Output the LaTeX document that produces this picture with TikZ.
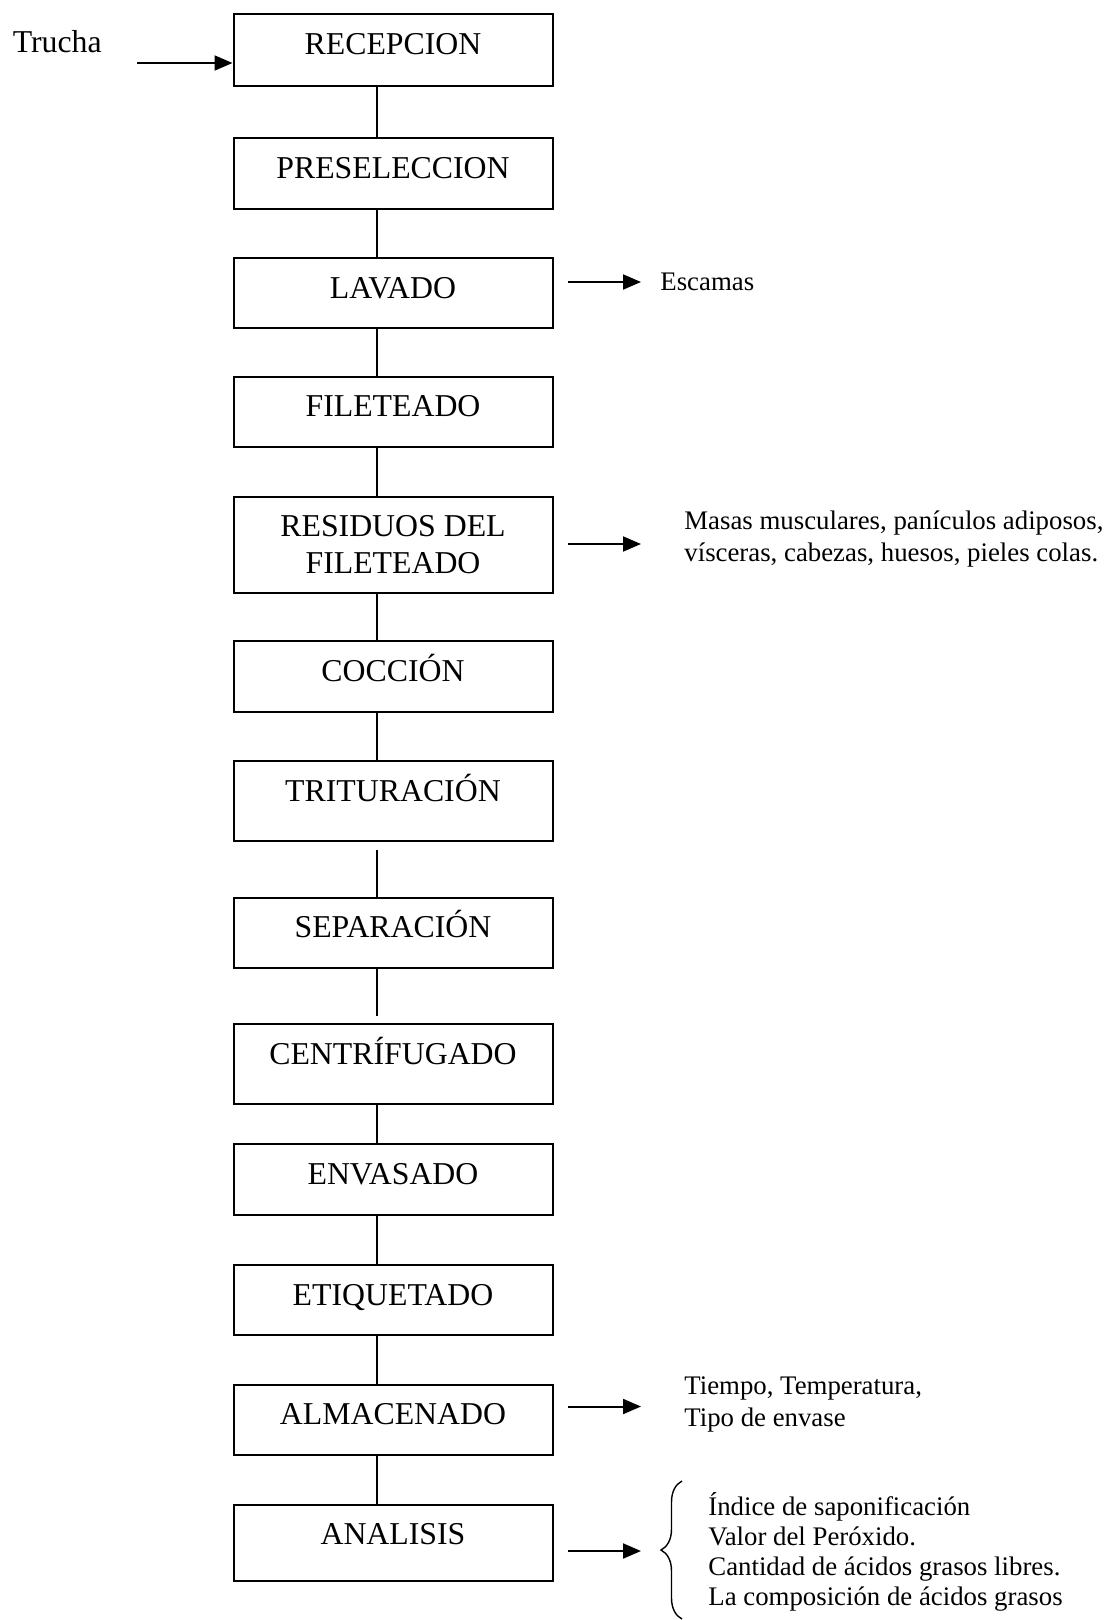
\documentclass[tikz,border=0pt]{standalone}
\usepackage{fontspec}
\setmainfont{Liberation Serif}
\usetikzlibrary{arrows.meta,decorations.pathreplacing}
\begin{document}
\begin{tikzpicture}[x=0.5pt,y=-0.5pt,
  stepbox/.style={draw,line width=1pt,minimum width=159.5pt,inner xsep=0pt,inner ysep=0pt,
    anchor=north,font=\fontsize{15.9}{18.5}\selectfont,text height=20pt},
  link/.style={line width=0.8pt},
  arr/.style={line width=1pt,-{Triangle[length=9pt,width=7.5pt]}},
  side/.style={anchor=base west,inner sep=0pt},
  sidefont/.style={font=\fontsize{13.4}{16}\selectfont}]
\useasboundingbox (0,0) rectangle (1104,1620);

% process boxes
\node[stepbox,text depth=15.65pt] (rec) at (393,13.4) {RECEPCION};
\node[stepbox,text depth=15.1pt] (pre) at (393,137.4) {PRESELECCION};
\node[stepbox,text depth=15.15pt] (lav) at (393,257.1) {LAVADO};
\node[stepbox,text depth=15.1pt] (fil) at (393,375.9) {FILETEADO};
\node[stepbox,text depth=28pt] (res) at (393,495.7)
  {\begin{tabular}[t]{@{}c@{}}RESIDUOS DEL\\FILETEADO\end{tabular}};
\node[stepbox,text depth=15.1pt] (coc) at (393,640.3) {COCCIÓN};
\node[stepbox,text depth=19.75pt] (tri) at (393,760) {TRITURACIÓN};
\node[stepbox,text depth=15.25pt] (sep) at (393,896.5) {SEPARACIÓN};
\node[stepbox,text depth=19.75pt] (cen) at (393,1023.4) {CENTRÍFUGADO};
\node[stepbox,text depth=15.6pt] (env) at (393,1143.2) {ENVASADO};
\node[stepbox,text depth=15.15pt] (eti) at (393,1264) {ETIQUETADO};
\node[stepbox,text depth=15.1pt] (alm) at (393,1383.8) {ALMACENADO};
\node[stepbox,text depth=18.2pt] (ana) at (393,1503.6) {ANALISIS};

% vertical links
\draw[link] ([xshift=-8pt]rec.south) -- ([xshift=-8pt]pre.north);
\draw[link] ([xshift=-8pt]pre.south) -- ([xshift=-8pt]lav.north);
\draw[link] ([xshift=-8pt]lav.south) -- ([xshift=-8pt]fil.north);
\draw[link] ([xshift=-8pt]fil.south) -- ([xshift=-8pt]res.north);
\draw[link] ([xshift=-8pt]res.south) -- ([xshift=-8pt]coc.north);
\draw[link] ([xshift=-8pt]coc.south) -- ([xshift=-8pt]tri.north);
\draw[link,shorten <=4pt] ([xshift=-8pt]tri.south) -- ([xshift=-8pt]sep.north);
\draw[link,shorten >=3.5pt] ([xshift=-8pt]sep.south) -- ([xshift=-8pt]cen.north);
\draw[link] ([xshift=-8pt]cen.south) -- ([xshift=-8pt]env.north);
\draw[link] ([xshift=-8pt]env.south) -- ([xshift=-8pt]eti.north);
\draw[link] ([xshift=-8pt]eti.south) -- ([xshift=-8pt]alm.north);
\draw[link] ([xshift=-8pt]alm.south) -- ([xshift=-8pt]ana.north);

% input
\node[side,font=\fontsize{15.9}{18.5}\selectfont] (trucha) at (12.4,52.5) {Trucha};
\coordinate (tin) at (137,63);
\draw[arr] (tin) -- (tin -| rec.west);

% outputs
\coordinate (e1) at (568,282); \coordinate (e2) at (641,282);
\draw[arr] (e1) -- (e2);
\node[side,sidefont] (esc) at (660,291) {Escamas};

\coordinate (r1) at (568,544); \coordinate (r2) at (641,544);
\draw[arr] (r1) -- (r2);
\node[side,sidefont] (resout) at (684,529.4)
  {\begin{tabular}[t]{@{}l@{}}Masas musculares, panículos adiposos,\\vísceras, cabezas, huesos, pieles colas.\end{tabular}};

\coordinate (a1) at (568,1406.5); \coordinate (a2) at (641,1406.5);
\draw[arr] (a1) -- (a2);
\node[side,sidefont] (almout) at (684,1394)
  {\begin{tabular}[t]{@{}l@{}}Tiempo, Temperatura,\\Tipo de envase\end{tabular}};

\coordinate (n1) at (568,1551); \coordinate (n2) at (641,1551);
\draw[arr] (n1) -- (n2);
\coordinate (b1) at (682,1619); \coordinate (b2) at (682,1481);
\draw[line width=0.7pt,decorate,decoration={brace,amplitude=10.5pt}] (b1) -- (b2);
\node[side,font=\fontsize{13.4}{15}\selectfont] (anaout) at (708,1515)
  {\begin{tabular}[t]{@{}l@{}}Índice de saponificación\\Valor del Peróxido.\\Cantidad de ácidos grasos libres.\\La composición de ácidos grasos\end{tabular}};
\end{tikzpicture}
\end{document}
